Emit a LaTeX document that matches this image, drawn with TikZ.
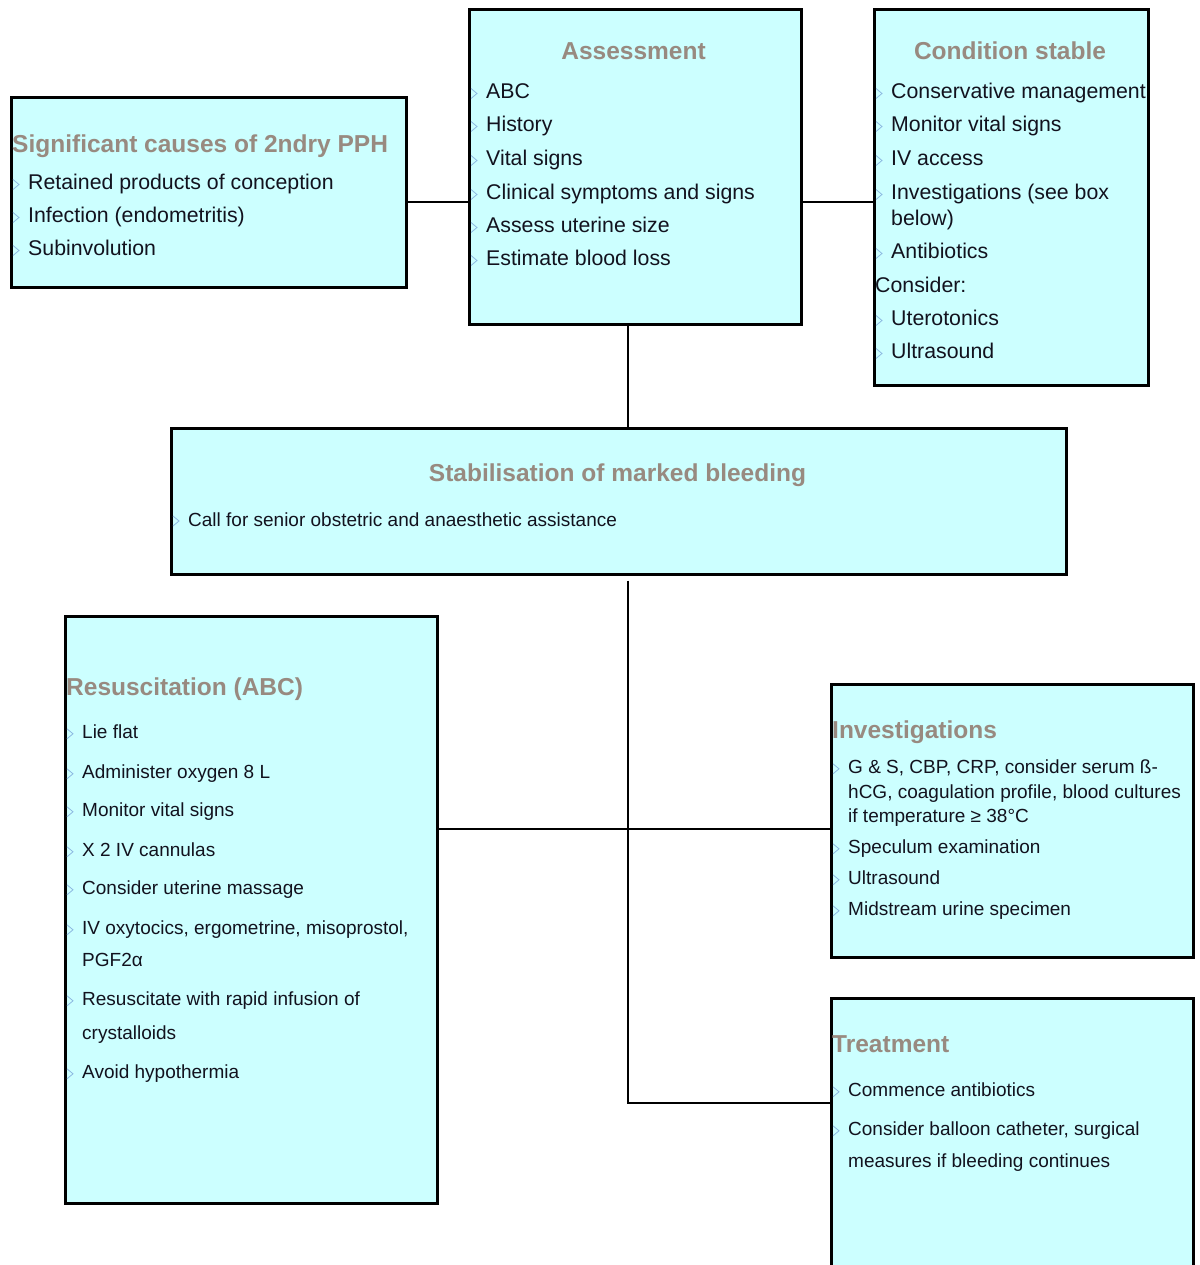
\documentclass[tikz,border=0pt]{standalone}
\usepackage{fontspec}
\setmainfont{Liberation Sans}
\definecolor{boxfill}{RGB}{204,255,255}
\definecolor{titlecol}{RGB}{152,138,128}
\definecolor{bulcol}{RGB}{140,185,225}
\definecolor{txtcol}{RGB}{18,18,30}
\newcounter{lnum}
\tikzset{
  box/.style={draw=black, line width=2.6pt, fill=boxfill, rectangle, inner sep=0pt, anchor=north west},
  conn/.style={draw=black, line width=1.1pt},
  ttl/.style={text=titlecol, font=\fontsize{24.5}{28}\selectfont\bfseries, inner sep=0pt, anchor=base},
  ttlw/.style={ttl, anchor=base west},
  big/.style={text=txtcol, font=\fontsize{21.3}{25}\selectfont, inner sep=0pt, anchor=base west},
  small/.style={text=txtcol, font=\fontsize{19}{23}\selectfont, inner sep=0pt, anchor=base west},
  bul/.style={draw=bulcol, line width=0.8pt}
}
% bullet item: style, x, baseline, text
\newcommand{\itm}[4]{%
  \stepcounter{lnum}%
  \node[#1] (ln\thelnum) at (#2,#3) {#4};
  \draw[bul] (#2-15,#3-10) -- (#2-9,#3-5) -- (#2-15,#3);
}
\newcommand{\cnt}[4]{%
  \stepcounter{lnum}%
  \node[#1] (ln\thelnum) at (#2,#3) {#4};
}
\begin{document}
\begin{tikzpicture}[x=1pt,y=-1pt]
\useasboundingbox[fill=white] (0,0) rectangle (1199,1265);

% boxes
\node[box, minimum width=395pt, minimum height=190pt] (causes) at (10,96) {};
\node[box, minimum width=332pt, minimum height=315pt] (assess) at (468,8) {};
\node[box, minimum width=274pt, minimum height=376pt] (stable) at (873,8) {};
\node[box, minimum width=895pt, minimum height=146pt] (stab) at (170,427) {};
\node[box, minimum width=372pt, minimum height=587pt] (resus) at (64,615) {};
\node[box, minimum width=362pt, minimum height=273pt] (invest) at (830,683) {};
\node[box, minimum width=362pt, minimum height=290pt] (treat) at (830,997) {};

% connectors
\draw[conn] (causes.east |- 0,202) -- (assess.west |- 0,202);
\draw[conn] (assess.east |- 0,202) -- (stable.west |- 0,202);
\draw[conn] (assess.south -| 628,0) -- (stab.north -| 628,0);
\coordinate (jn) at (628,829);
\coordinate (jt) at (628,1103);
\draw[conn] ([yshift=-5pt]stab.south -| 628,0) -- (jt) -- (treat.west |- jt);
\draw[conn] (resus.east |- jn) -- (invest.west |- jn);

% Causes
\node[ttlw] (tcauses) at (12,152.5) {Significant causes of 2ndry PPH};
\itm{big}{28}{189.5}{Retained products of conception}
\itm{big}{28}{222.5}{Infection (endometritis)}
\itm{big}{28}{255.5}{Subinvolution}

% Assessment
\node[ttl] (tassess) at (633.5,59.5) {Assessment};
\itm{big}{486}{98.5}{ABC}
\itm{big}{486}{131.5}{History}
\itm{big}{486}{165.5}{Vital signs}
\itm{big}{486}{199.5}{Clinical symptoms and signs}
\itm{big}{486}{232.5}{Assess uterine size}
\itm{big}{486}{265.5}{Estimate blood loss}

% Condition stable
\node[ttl] (tstable) at (1010,59.5) {Condition stable};
\itm{big}{891}{98.5}{Conservative management}
\itm{big}{891}{131.5}{Monitor vital signs}
\itm{big}{891}{165.5}{IV access}
\itm{big}{891}{199.5}{Investigations (see box}
\cnt{big}{891}{225.5}{below)}
\itm{big}{891}{258.5}{Antibiotics}
\cnt{big}{875}{292.5}{Consider:}
\itm{big}{891}{325.5}{Uterotonics}
\itm{big}{891}{358.5}{Ultrasound}

% Stabilisation
\node[ttl] (tstab) at (617.5,481.5) {Stabilisation of marked bleeding};
\itm{small}{188}{526}{Call for senior obstetric and anaesthetic assistance}

% Resuscitation
\node[ttlw] (tresus) at (66,695.5) {Resuscitation (ABC)};
\itm{small}{82}{738.8}{Lie flat}
\itm{small}{82}{778.8}{Administer oxygen 8 L}
\itm{small}{82}{816.8}{Monitor vital signs}
\itm{small}{82}{856.8}{X 2 IV cannulas}
\itm{small}{82}{894.8}{Consider uterine massage}
\itm{small}{82}{934.8}{IV oxytocics, ergometrine, misoprostol,}
\cnt{small}{82}{966.8}{PGF2α}
\itm{small}{82}{1005.8}{Resuscitate with rapid infusion of}
\cnt{small}{82}{1039.8}{crystalloids}
\itm{small}{82}{1078.8}{Avoid hypothermia}

% Investigations
\node[ttlw] (tinvest) at (832,738.5) {Investigations};
\itm{small}{848}{773.8}{G \& S, CBP, CRP, consider serum ß-}
\cnt{small}{848}{798.8}{hCG, coagulation profile, blood cultures}
\cnt{small}{848}{822.8}{if temperature ≥ 38°C}
\itm{small}{848}{853.8}{Speculum examination}
\itm{small}{848}{884.8}{Ultrasound}
\itm{small}{848}{915.8}{Midstream urine specimen}

% Treatment
\node[ttlw] (ttreat) at (832,1052.5) {Treatment};
\itm{small}{848}{1096.8}{Commence antibiotics}
\itm{small}{848}{1135.8}{Consider balloon catheter, surgical}
\cnt{small}{848}{1167.8}{measures if bleeding continues}
\end{tikzpicture}
\end{document}
